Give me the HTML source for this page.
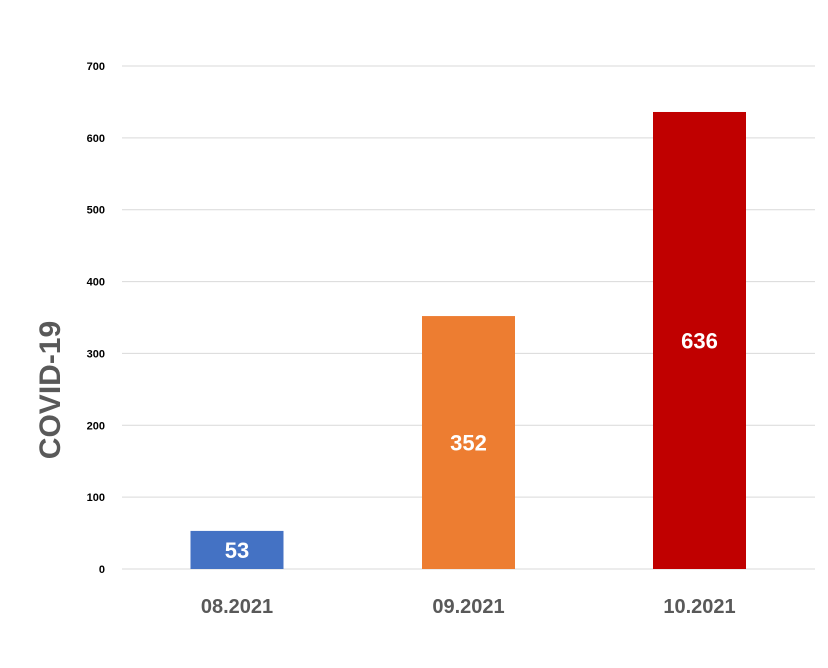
<!DOCTYPE html>
<html><head><meta charset="utf-8"><style>
body{margin:0;background:#fff;width:828px;height:663px;overflow:hidden;font-family:"Liberation Sans",sans-serif}
</style></head><body>
<svg id="chart" width="828" height="663" xmlns="http://www.w3.org/2000/svg">
<text transform="translate(60,390) rotate(-90)" text-anchor="middle" font-size="30" font-weight="bold" fill="#595959" font-family="Liberation Sans, sans-serif">COVID-19</text>
</svg>
<script>
const categories=["08.2021","09.2021","10.2021"];
const values=[53,352,636];
const colors=["#4472C4","#ED7D31","#C00000"];
const ticks=[0,100,200,300,400,500,600,700];
const svg=document.getElementById('chart');
const NS="http://www.w3.org/2000/svg";
const y0=569,y700=66,maxV=700;
const yS=v=>y0-(v/maxV)*(y0-y700);
const xL=122,xR=815,bw=93,centers=[237,468.5,699.5];
function mk(t,a){const e=document.createElementNS(NS,t);for(const k in a)e.setAttribute(k,a[k]);svg.appendChild(e);return e;}
ticks.forEach(t=>{
 const g=mk('line',{x1:xL,x2:xR,y1:yS(t),y2:yS(t),stroke:'#d9d9d9','stroke-width':1});
 
 
 const l=mk('text',{x:105,y:yS(t)+4,'text-anchor':'end','font-size':11,'font-weight':'bold',fill:'#000'});
 l.textContent=t;
 
 
});
categories.forEach((c,i)=>{
 const cx=centers[i];
 const r=mk('rect',{x:cx-bw/2,y:yS(values[i]),width:bw,height:y0-yS(values[i]),fill:colors[i]});
 
 
 const v=mk('text',{x:cx,y:(yS(values[i])+y0)/2+8,'text-anchor':'middle','font-size':22,'font-weight':'bold',fill:'#fff'});
 v.textContent=values[i];
 
 
 const x=mk('text',{x:cx,y:613,'text-anchor':'middle','font-size':20,'font-weight':'bold',fill:'#595959'});
 x.textContent=c;
 
 
});
</script>
</body></html>
